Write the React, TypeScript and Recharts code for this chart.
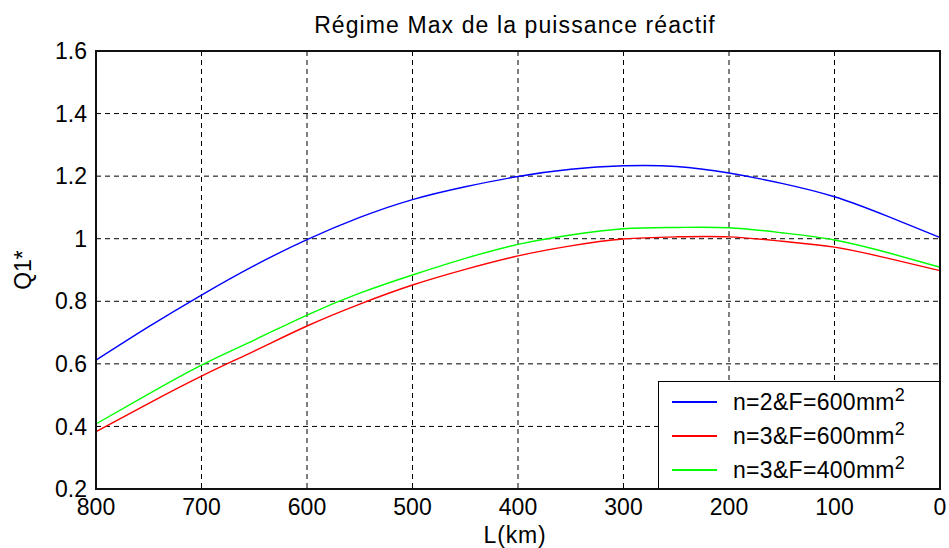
import React from 'react';
import { LineChart, Line, XAxis, YAxis, CartesianGrid, Legend } from 'recharts';

const lengthsKm = [800, 750, 700, 650, 600, 550, 500, 450, 400, 350, 300, 250, 200, 150, 100, 50, 0];
const seriesN2F600 = [0.612, 0.719, 0.820, 0.914, 0.997, 1.068, 1.125, 1.166, 1.199, 1.222, 1.233, 1.231, 1.210, 1.177, 1.134, 1.072, 1.004];
const seriesN3F600 = [0.383, 0.474, 0.561, 0.641, 0.721, 0.791, 0.852, 0.902, 0.945, 0.977, 0.999, 1.006, 1.006, 0.992, 0.973, 0.938, 0.898];
const seriesN3F400 = [0.408, 0.504, 0.596, 0.676, 0.756, 0.826, 0.884, 0.937, 0.982, 1.012, 1.032, 1.036, 1.035, 1.019, 0.996, 0.956, 0.909];
const xTicks = [800, 700, 600, 500, 400, 300, 200, 100, 0];
const yTicks = [0.2, 0.4, 0.6, 0.8, 1, 1.2, 1.4, 1.6];
const seriesNames = ['n=2&F=600mm', 'n=3&F=600mm', 'n=3&F=400mm'];
const titleText = 'Régime Max de la puissance réactif';
const xLabel = 'L(km)';
const yLabel = 'Q1*';

const seriesColors = ['#0000ff', '#ff0000', '#00ff00'];

const data = lengthsKm.map((L, i) => ({
  L,
  a: seriesN2F600[i],
  b: seriesN3F600[i],
  c: seriesN3F400[i],
}));

const FONT = '"Liberation Sans", Arial, sans-serif';

const MARGIN = { top: 51, right: 9, bottom: 29, left: 0 };
const Y_AXIS_W = 96;
const X_AXIS_H = 30;
const W = 949;
const H = 548;
const plotLeft = MARGIN.left + Y_AXIS_W;
const plotTop = MARGIN.top;
const plotW = W - plotLeft - MARGIN.right;
const plotH = H - MARGIN.top - MARGIN.bottom - X_AXIS_H;

const renderLegend = () => {
  return (
    <div
      style={{
        position: 'relative',
        width: 282,
        height: 108,
        boxSizing: 'border-box',
        border: '1px solid #000',
        background: '#fff',
        fontFamily: FONT,
        fontSize: 23,
        color: '#000',
      }}
    >
      {seriesNames.map((name, i) => (
        <div key={i} style={{ position: 'absolute', left: 0, top: 4 + i * 34, height: 30, width: 280 }}>
          <div
            style={{
              position: 'absolute',
              left: 13,
              top: 15,
              width: 45,
              height: 2,
              background: seriesColors[i],
            }}
          />
          <div style={{ position: 'absolute', left: 74, top: 1, lineHeight: '30px', whiteSpace: 'nowrap', letterSpacing: 0.3 }}>
            {name}
            <span style={{ fontSize: 18, position: 'relative', top: -9 }}>2</span>
          </div>
        </div>
      ))}
    </div>
  );
};

const tickStyle = { fill: '#000', fontSize: 23, fontFamily: FONT };

export default function App() {
  return (
    <div style={{ position: 'absolute', left: 0, top: 0, width: W, height: H, background: '#fff' }}>
      <LineChart width={W} height={H} data={data} margin={MARGIN}>
        <CartesianGrid stroke="#000" strokeDasharray="5 4" strokeWidth={1} />
        <XAxis
          dataKey="L"
          type="number"
          domain={[0, 800]}
          reversed
          ticks={xTicks}
          interval={0}
          height={X_AXIS_H}
          tickLine={false}
          axisLine={false}
          tickSize={0}
          tickMargin={10}
          tick={tickStyle}
        />
        <YAxis
          type="number"
          domain={[0.2, 1.6]}
          ticks={yTicks}
          interval={0}
          width={Y_AXIS_W}
          tickLine={false}
          axisLine={false}
          tickSize={0}
          tickMargin={9}
          tick={tickStyle}
        />
        <Line type="natural" dataKey="a" name={seriesNames[0]} stroke={seriesColors[0]} strokeWidth={1.4} dot={false} isAnimationActive={false} />
        <Line type="natural" dataKey="b" name={seriesNames[1]} stroke={seriesColors[1]} strokeWidth={1.4} dot={false} isAnimationActive={false} />
        <Line type="natural" dataKey="c" name={seriesNames[2]} stroke={seriesColors[2]} strokeWidth={1.4} dot={false} isAnimationActive={false} />
        <Legend
          layout="horizontal"
          verticalAlign="middle"
          align="center"
          content={renderLegend}
          wrapperStyle={{ left: 658, top: 381, width: 282, height: 108 }}
        />
      </LineChart>
      <svg
        width={W}
        height={H}
        style={{ position: 'absolute', left: 0, top: 0, pointerEvents: 'none' }}
      >
        <rect x={plotLeft} y={plotTop} width={plotW} height={plotH} fill="none" stroke="#111" strokeWidth={2} />
        <text x={515} y={33} textAnchor="middle" fontFamily={FONT} fontSize={23} letterSpacing={1.1} fill="#000">
          {titleText}
        </text>
        <text x={515} y={543} textAnchor="middle" fontFamily={FONT} fontSize={23} letterSpacing={0.8} fill="#000">
          {xLabel}
        </text>
        <text
          x={0}
          y={0}
          transform="translate(31,270) rotate(-90)"
          textAnchor="middle"
          fontFamily={FONT}
          fontSize={23}
          fill="#000"
        >
          {yLabel}
        </text>
      </svg>
    </div>
  );
}
